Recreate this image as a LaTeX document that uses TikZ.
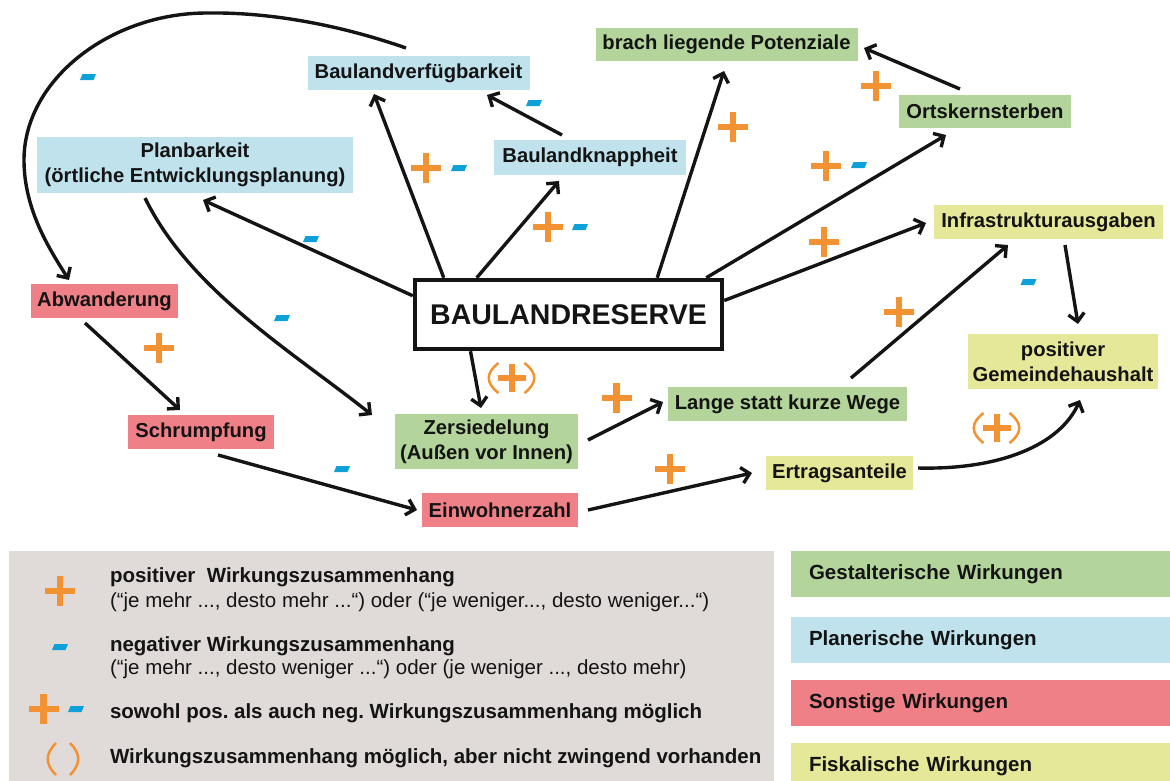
\documentclass[tikz,border=0pt]{standalone}
\usepackage{fontspec}
\setmainfont{Liberation Sans}
\usetikzlibrary{arrows.meta,calc}
\definecolor{cgreen}{RGB}{179,213,155}
\definecolor{cblue}{RGB}{191,226,236}
\definecolor{cred}{RGB}{240,128,136}
\definecolor{cyellow}{RGB}{230,232,153}
\definecolor{cgray}{RGB}{224,219,216}
\definecolor{corange}{RGB}{243,146,50}
\definecolor{ccyan}{RGB}{14,160,216}
\definecolor{ctext}{RGB}{20,20,20}
\frenchspacing
\begin{document}
\begin{tikzpicture}[x=1pt,y=-1pt,
  every node/.style={inner sep=0pt, outer sep=0pt, text=ctext},
  box/.style={fill=#1, align=center, font=\fontsize{20.2}{25}\selectfont\bfseries},
  legbar/.style={fill=#1, anchor=north west, minimum height=46pt, text width=343pt, inner xsep=18pt, align=left, font=\fontsize{20.5}{24}\selectfont\bfseries},
  legbold/.style={anchor=west, font=\fontsize{20.5}{24}\selectfont\bfseries},
  legreg/.style={anchor=west, font=\fontsize{20.5}{24}\selectfont},
  arr/.style={draw=ctext, line width=3.4pt, -{Straight Barb[length=8pt,width=16pt]}},
  pplus/.pic={\draw[corange, line width=6.5pt] (-15,0)--(15,0) (0,-15)--(0,15);},
  pminus/.pic={\fill[ccyan] (-8,3)--(-5.5,-3)--(8,-3)--(5.5,3)--cycle;},
  pparplus/.pic={\draw[corange, line width=6pt] (-14,0)--(14,0) (0,-14)--(0,14);
    \draw[corange, line width=2.5pt] (-13,-15) .. controls (-26,-5) and (-26,5) .. (-13,15);
    \draw[corange, line width=2.5pt] (13,-15) .. controls (26,-5) and (26,5) .. (13,15);},
  pparens/.pic={\draw[corange, line width=2.5pt] (-7,-16) .. controls (-18,-5) and (-18,5) .. (-7,16);
    \draw[corange, line width=2.5pt] (7,-16) .. controls (18,-5) and (18,5) .. (7,16);}
]
\useasboundingbox (0,0) rectangle (1170,780);

% nodes
\node[box=cblue, minimum width=222pt, minimum height=34pt] (bv) at (418.5,73) {Baulandverfügbarkeit};
\node[box=cgreen, minimum width=262pt, minimum height=33pt] (blp) at (726.5,44.5) {brach liegende Potenziale};
\node[box=cgreen, minimum width=172pt, minimum height=33pt] (ok) at (985,111.5) {Ortskernsterben};
\node[box=cblue, minimum width=192pt, minimum height=35pt] (bk) at (590,157.5) {Baulandknappheit};
\node[box=cblue, minimum width=316pt, minimum height=56pt] (pb) at (195,165) {Planbarkeit\\(örtliche Entwicklungsplanung)};
\node[box=cyellow, minimum width=229pt, minimum height=34pt] (ia) at (1048.5,222) {Infrastrukturausgaben};
\node[box=cred, minimum width=147pt, minimum height=34pt] (ab) at (104.5,301) {Abwanderung};
\node[draw=ctext, line width=4.5pt, fill=white, outer sep=2.25pt, minimum width=307pt, minimum height=69pt, font=\fontsize{28.5}{32}\selectfont\bfseries] (brs) at (568.5,314.5) {BAULANDRESERVE};
\node[box=cyellow, minimum width=190pt, minimum height=55pt] (pg) at (1063,361.5) {positiver\\Gemeindehaushalt};
\node[box=cred, minimum width=146pt, minimum height=34pt] (sch) at (201,432) {Schrumpfung};
\node[box=cgreen, minimum width=183pt, minimum height=55pt] (zs) at (486.5,441.5) {Zersiedelung\\(Außen vor Innen)};
\node[box=cred, minimum width=156pt, minimum height=34pt] (ew) at (500,510) {Einwohnerzahl};
\node[box=cgreen, minimum width=239pt, minimum height=34pt] (lw) at (787.5,404) {Lange statt kurze Wege};
\node[box=cyellow, minimum width=147pt, minimum height=34pt] (et) at (839.5,473) {Ertragsanteile};

% connectors
\draw[arr] ($(bv.north)+(-12.5,-8)$) .. controls (340,25) and (270,12) .. (207,13)
   .. controls (110,13) and (24,80) .. (24,160)
   .. controls (24,210) and (50,250) .. ($(ab.north)+(-35.5,-4)$);
\draw[arr] ($(brs.north west)+(0,18)$) -- ($(pb.south)+(8,7)$);
\draw[arr] ($(brs.north west)+(31,0)$) -- ($(bv.south)+(-44.5,4)$);
\draw[arr] ($(brs.north west)+(64,0)$) -- ($(bk.south)+(-31,6)$);
\draw[arr] ($(bk.north)+(-28,-5)$) -- ($(bv.south east)+(-42.5,5)$);
\draw[arr] ($(brs.north east)+(-67,0)$) -- ($(blp.south)+(-2.5,10)$);
\draw[arr] ($(brs.north east)+(-18,0)$) -- ($(ok.south)+(-39,7)$);
\draw[arr] ($(ok.north)+(-25,-6)$) -- ($(blp.east)+(6.5,3.5)$);
\draw[arr] ($(brs.east)+(0,-14)$) -- ($(ia.west)+(-8,1)$);
\draw[arr] ($(ia.south)+(16.5,6)$) -- ($(pg.north)+(15,-10)$);
\draw[arr] ($(lw.north)+(63.5,-9)$) -- ($(ia.south)+(-40.5,6)$);
\draw[arr] ($(brs.south)+(-98,0)$) -- ($(zs.north)+(-5.5,-6)$);
\draw[arr] ($(pb.south)+(-50,5)$) .. controls (190,290) and (290,350) .. ($(zs.north west)+(-23,1)$);
\draw[arr] ($(ab.south)+(-19.5,5)$) -- ($(sch.north)+(-21,-5)$);
\draw[arr] ($(zs.east)+(10,-1.5)$) -- ($(lw.west)+(-5,-2)$);
\draw[arr] ($(sch.south)+(17,6)$) -- ($(ew.west)+(-5,0)$);
\draw[arr] ($(ew.east)+(10,0)$) -- ($(et.west)+(-14,0)$);
\draw[arr] ($(et.east)+(5,-5)$) .. controls (1000,470) and (1060,445) .. ($(pg.south)+(17,11)$);

% signs
\pic at (88,77) {pminus};
\pic at (311,239) {pminus};
\pic at (426,168) {pplus}; \pic at (459,168) {pminus};
\pic at (548,227) {pplus}; \pic at (580,227) {pminus};
\pic at (534,103) {pminus};
\pic at (733,127) {pplus};
\pic at (826,166) {pplus}; \pic at (859,165) {pminus};
\pic at (876,86) {pplus};
\pic at (824,242) {pplus};
\pic at (1028.5,282) {pminus};
\pic at (899,312) {pplus};
\pic at (511.5,378) {pparplus};
\pic at (282,318) {pminus};
\pic at (159,348) {pplus};
\pic at (616.5,398) {pplus};
\pic at (342,469) {pminus};
\pic at (670,469) {pplus};
\pic at (996.5,428) {pparplus};

% legend
\node[fill=cgray, anchor=north west, minimum width=765pt, minimum height=240pt] (lg) at (9,551) {};
\pic at (60,591) {pplus};
\node[legbold] (l1a) at (110,577) {positiver\ \ Wirkungszusammenhang};
\node[legreg] (l1b) at (110,602) {(“je mehr ..., desto mehr ...“) oder (“je weniger..., desto weniger...“)};
\pic at (60,647) {pminus};
\node[legbold] (l2a) at (110,646) {negativer Wirkungszusammenhang};
\node[legreg] (l2b) at (110,669) {(“je mehr ..., desto weniger ...“) oder (je weniger ..., desto mehr)};
\pic at (43.5,709) {pplus}; \pic at (76,709) {pminus};
\node[legbold] (l3) at (110,713) {sowohl pos. als auch neg. Wirkungszusammenhang möglich};
\pic at (63,759) {pparens};
\node[legbold] (l4) at (110,758) {Wirkungszusammenhang möglich, aber nicht zwingend vorhanden};

\node[legbar=cgreen] (g1) at (791,551) {Gestalterische Wirkungen};
\node[legbar=cblue] (g2) at (791,617) {Planerische Wirkungen};
\node[legbar=cred] (g3) at (791,680) {Sonstige Wirkungen};
\node[legbar=cyellow] (g4) at (791,743) {Fiskalische Wirkungen};
\end{tikzpicture}
\end{document}
